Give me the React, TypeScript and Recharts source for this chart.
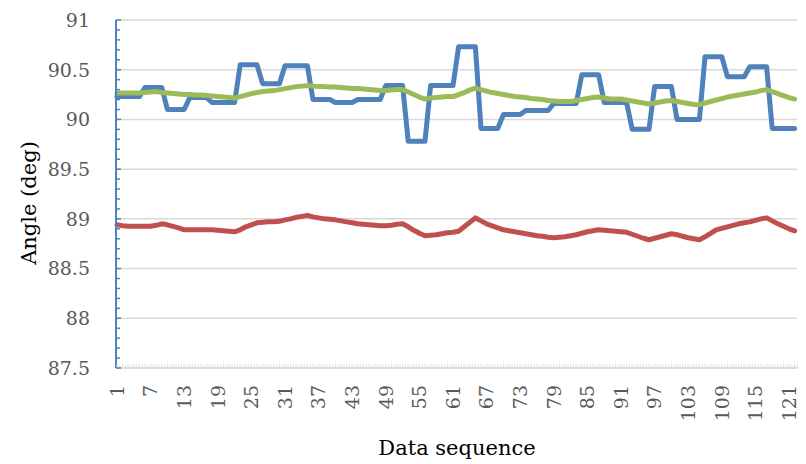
import { LineChart, Line, XAxis, YAxis, CartesianGrid, Label } from 'recharts'

// sample index 1..122
const categories: number[] = Array.from({ length: 122 }, (_, i) => i + 1)

const blue: number[] = [
  90.23, 90.23, 90.23, 90.23, 90.23, 90.32, 90.32, 90.32, 90.32, 90.1,
  90.1, 90.1, 90.1, 90.22, 90.22, 90.22, 90.22, 90.17, 90.17, 90.17,
  90.17, 90.17, 90.55, 90.55, 90.55, 90.55, 90.36, 90.36, 90.36, 90.36,
  90.54, 90.54, 90.54, 90.54, 90.54, 90.2, 90.2, 90.2, 90.2, 90.17,
  90.17, 90.17, 90.17, 90.2, 90.2, 90.2, 90.2, 90.2, 90.34, 90.34,
  90.34, 90.34, 89.78, 89.78, 89.78, 89.78, 90.34, 90.34, 90.34, 90.34,
  90.34, 90.73, 90.73, 90.73, 90.73, 89.91, 89.91, 89.91, 89.91, 90.05,
  90.05, 90.05, 90.05, 90.09, 90.09, 90.09, 90.09, 90.09, 90.16, 90.16,
  90.16, 90.16, 90.16, 90.45, 90.45, 90.45, 90.45, 90.17, 90.17, 90.17,
  90.17, 90.17, 89.9, 89.9, 89.9, 89.9, 90.33, 90.33, 90.33, 90.33,
  90.0, 90.0, 90.0, 90.0, 90.0, 90.63, 90.63, 90.63, 90.63, 90.43,
  90.43, 90.43, 90.43, 90.53, 90.53, 90.53, 90.53, 89.91, 89.91, 89.91,
  89.91, 89.91,
]

const red: number[] = [
  88.94, 88.93, 88.925, 88.925, 88.925, 88.925, 88.925, 88.935, 88.95, 88.94,
  88.925, 88.91, 88.89, 88.89, 88.89, 88.89, 88.89, 88.89, 88.885, 88.88,
  88.875, 88.87, 88.89, 88.92, 88.94, 88.96, 88.965, 88.97, 88.97, 88.975,
  88.99, 89.0, 89.015, 89.025, 89.035, 89.02, 89.01, 89.0, 88.995, 88.99,
  88.98, 88.97, 88.96, 88.95, 88.945, 88.94, 88.935, 88.93, 88.93, 88.935,
  88.945, 88.95, 88.92, 88.885, 88.855, 88.83, 88.835, 88.84, 88.85, 88.86,
  88.865, 88.875, 88.92, 88.965, 89.01, 88.98, 88.95, 88.93, 88.91, 88.89,
  88.88, 88.87, 88.86, 88.85, 88.84, 88.83, 88.825, 88.815, 88.81, 88.815,
  88.82, 88.83, 88.84, 88.855, 88.87, 88.88, 88.89, 88.885, 88.88, 88.875,
  88.87, 88.865, 88.845, 88.825, 88.805, 88.79, 88.805, 88.82, 88.835, 88.85,
  88.84, 88.825, 88.81, 88.8, 88.79, 88.82, 88.855, 88.89, 88.905, 88.92,
  88.935, 88.95, 88.96, 88.97, 88.985, 89.0, 89.01, 88.98, 88.95, 88.925,
  88.9, 88.88,
]

const green: number[] = [
  90.265, 90.265, 90.265, 90.265, 90.265, 90.27, 90.275, 90.28, 90.27, 90.265,
  90.26, 90.255, 90.25, 90.25, 90.245, 90.245, 90.24, 90.235, 90.23, 90.225,
  90.22, 90.215, 90.23, 90.245, 90.26, 90.27, 90.28, 90.285, 90.29, 90.3,
  90.31, 90.32, 90.33, 90.335, 90.34, 90.335, 90.33, 90.33, 90.325, 90.325,
  90.32, 90.315, 90.31, 90.31, 90.305, 90.3, 90.295, 90.29, 90.29, 90.295,
  90.3, 90.3, 90.275, 90.25, 90.225, 90.205, 90.215, 90.22, 90.225, 90.23,
  90.23, 90.25, 90.27, 90.295, 90.315, 90.3, 90.285, 90.27, 90.26, 90.25,
  90.24, 90.23, 90.225, 90.22, 90.21, 90.205, 90.2, 90.19, 90.185, 90.18,
  90.18, 90.18, 90.19, 90.2, 90.21, 90.22, 90.225, 90.215, 90.205, 90.205,
  90.205, 90.195, 90.185, 90.175, 90.165, 90.155, 90.165, 90.175, 90.185, 90.19,
  90.18, 90.17, 90.16, 90.15, 90.148, 90.165, 90.18, 90.195, 90.21, 90.225,
  90.235, 90.245, 90.255, 90.265, 90.275, 90.29, 90.3, 90.28, 90.26, 90.24,
  90.22, 90.205,
]

const yMajor: number[] = [87.5, 88, 88.5, 89, 89.5, 90, 90.5, 91]
// minor marks every 0.1
const yMinor: number[] = Array.from({ length: 36 }, (_, k) => Math.round((87.5 + k * 0.1) * 10) / 10)

const data = categories.map((n, i) => ({ n, blue: blue[i], red: red[i], green: green[i] }))

const FONT = '"DejaVu Serif", serif'

function XTick(props: any) {
  const { x, y, payload } = props
  const v = payload.value
  return (
    <g>
      <line x1={x} x2={x} y1={y} y2={y - 4} stroke="#D9D9D9" strokeWidth={1} />
      <line x1={x + 2.8} x2={x + 2.8} y1={y} y2={y - 3} stroke="#D9D9D9" strokeWidth={1} />
      {(v - 1) % 6 === 0 && (
        <text
          transform={`translate(${x},${y + 17}) rotate(-90)`}
          textAnchor="end"
          dy="0.36em"
          fill="#595959"
          fontSize={19}
          fontFamily={FONT}
        >
          {v}
        </text>
      )}
    </g>
  )
}

function YTick(props: any) {
  const { x, y, payload } = props
  const v = payload.value
  const major = yMajor.some((m) => Math.abs(m - v) < 1e-6)
  return (
    <g>
      <line x1={x} x2={x + (major ? 5 : 4)} y1={y} y2={y} stroke="#4F81BD" strokeWidth={1.5} />
      {major && (
        <text x={x - 26} y={y} dy="0.36em" textAnchor="end" fill="#595959" fontSize={19} fontFamily={FONT}>
          {v}
        </text>
      )}
    </g>
  )
}

export default function App() {
  return (
    <div style={{ position: 'absolute', left: 0, top: 0, width: 806, height: 464, background: '#fff' }}>
      <LineChart width={806} height={464} data={data} margin={{ top: 20, right: 9, left: 0, bottom: 0 }}>
        <CartesianGrid horizontal vertical={false} horizontalValues={yMajor} stroke="#D9D9D9" strokeWidth={1.5} />
        <XAxis
          dataKey="n"
          type="category"
          interval={0}
          height={96}
          padding={{ left: 1, right: 2.4 }}
          axisLine={{ stroke: '#D9D9D9', strokeWidth: 1.5 }}
          tickLine={false}
          tickSize={0}
          tickMargin={0}
          tick={<XTick />}
        >
          <Label
            content={() => (
              <text x={457} y={455} textAnchor="middle" fill="#000" fontSize={21} fontFamily={FONT}>
                Data sequence
              </text>
            )}
          />
        </XAxis>
        <YAxis
          type="number"
          domain={[87.5, 91]}
          ticks={yMinor}
          interval={0}
          width={116}
          axisLine={{ stroke: '#4F81BD', strokeWidth: 2 }}
          tickLine={false}
          tickSize={0}
          tickMargin={0}
          tick={<YTick />}
        >
          <Label
            content={() => (
              <text
                transform="translate(28,203) rotate(-90)"
                textAnchor="middle"
                dy="0.36em"
                fill="#000"
                fontSize={21}
                fontFamily={FONT}
              >
                Angle (deg)
              </text>
            )}
          />
        </YAxis>
        <Line dataKey="blue" stroke="#4F81BD" strokeWidth={5} dot={false} isAnimationActive={false} strokeLinejoin="round" strokeLinecap="round" />
        <Line dataKey="red" stroke="#C0504D" strokeWidth={5} dot={false} isAnimationActive={false} strokeLinejoin="round" strokeLinecap="round" />
        <Line dataKey="green" stroke="#9BBB59" strokeWidth={5} dot={false} isAnimationActive={false} strokeLinejoin="round" strokeLinecap="round" />
      </LineChart>
    </div>
  )
}
